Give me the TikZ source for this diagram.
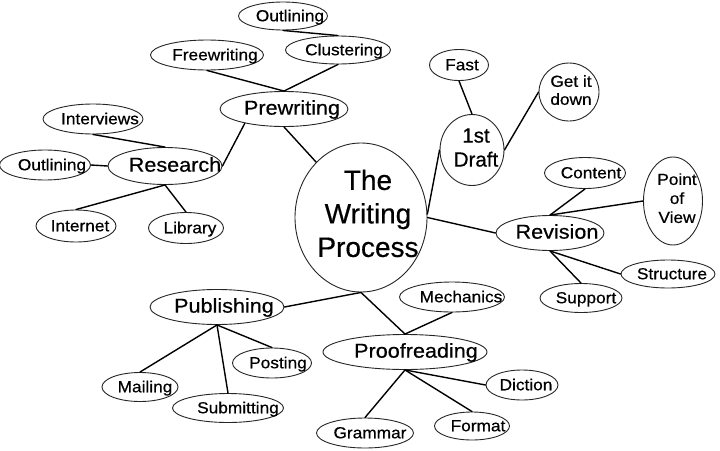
\documentclass[tikz,border=0pt]{standalone}
\usepackage{fontspec}
\setmainfont{Liberation Sans}[FakeBold=0.5]
\newfontfamily\wsans[FakeStretch=1.08,FakeBold=0.5]{Liberation Sans}
\newfontfamily\nsans[FakeBold=0.5]{Liberation Sans}
\usetikzlibrary{shapes.geometric}
\tikzset{
  bub/.style={ellipse, draw=black!85, line width=0.9pt, fill=white, inner sep=0pt},
  sm/.style={font=\wsans\fontsize{16}{18}\selectfont, inner sep=0pt, text height=11.5pt, text depth=0pt},
  md/.style={font=\wsans\fontsize{20}{24}\selectfont, inner sep=0pt, text height=14.3pt, text depth=0pt},
  link/.style={line width=1.4pt, black, line cap=round},
}
% name, x, y, w, h, dx, dy, text, style
\newcommand\mybub[9]{%
  \node[bub, minimum width=#4pt, minimum height=#5pt] (#1) at (#2,#3) {};
  \node[#9] (#1-t) at ([shift={(#6pt,#7pt)}]#1.center) {#8};}
\begin{document}
\begin{tikzpicture}[x=1pt,y=-1pt]
\useasboundingbox (0,0) rectangle (720,450);
\fill[white] (0,0) rectangle (720,450);

% centre
\node[bub, minimum width=132pt, minimum height=149pt] (cen) at (361,217.5) {};
\node[font=\nsans\fontsize{28}{33.5}\selectfont, align=center, inner sep=0pt] (cen-t) at (368,213.4) {The\\Writing\\Process};

% main branches
\mybub{pre}{284}{109}{128}{35}{8}{1.5}{Prewriting}{md}
\mybub{res}{165}{166}{114}{37}{10}{1.5}{Research}{md}
\mybub{rev}{550}{233}{108}{35}{7}{1.5}{Revision}{md}
\mybub{pub}{217}{307}{134}{35}{7}{1.5}{Publishing}{md}
\mybub{proof}{405}{352}{164}{35}{11}{1.5}{Proofreading}{md}

% leaves
\mybub{out1}{283}{16}{89}{28}{7}{0.5}{Outlining}{sm}
\mybub{clu}{338}{50}{105}{28}{6}{0.5}{Clustering}{sm}
\mybub{fre}{207}{55}{113}{30}{8}{0.5}{Freewriting}{sm}
\mybub{inv}{93}{119}{100}{30}{7}{0.5}{Interviews}{sm}
\mybub{out2}{45}{165}{91}{30}{7}{0.5}{Outlining}{sm}
\mybub{inet}{76}{226}{80}{32}{4}{0.5}{Internet}{sm}
\mybub{lib}{186}{228}{75}{31}{4}{0.5}{Library}{sm}
\mybub{fast}{459}{65}{59}{31}{3}{0.5}{Fast}{sm}
\mybub{cont}{585}{173}{81}{31}{6}{0.5}{Content}{sm}
\mybub{str}{668}{274}{94}{28}{4}{0.5}{Structure}{sm}
\mybub{sup}{581}{298}{82}{29}{5}{0.5}{Support}{sm}
\mybub{mech}{452}{297}{105}{30}{9}{0.5}{Mechanics}{sm}
\mybub{post}{272}{363}{79}{30}{6}{0.5}{Posting}{sm}
\mybub{mail}{140}{387}{76}{29}{5}{0.5}{Mailing}{sm}
\mybub{sub}{228}{408}{111}{29}{10}{0.5}{Submitting}{sm}
\mybub{dic}{522}{385}{72}{30}{4}{0.5}{Diction}{sm}
\mybub{fmt}{472}{426}{75}{28}{6}{0.5}{Format}{sm}
\mybub{gram}{365}{433}{97}{30}{5}{0.5}{Grammar}{sm}

% multi-line bubbles
\node[bub, minimum width=64pt, minimum height=71pt] (draft) at (472,150) {};
\node[font=\nsans\fontsize{20.5}{24}\selectfont, align=center, inner sep=0pt] (draft-t) at (476,147.6) {1st\\Draft};
\node[bub, minimum width=60pt, minimum height=58pt] (get) at (569,92) {};
\node[font=\wsans\fontsize{16}{18}\selectfont, align=center, inner sep=0pt] (get-t) at (571,90.1) {Get it\\down};
\node[bub, minimum width=59pt, minimum height=88pt] (pov) at (673,201) {};
\node[font=\wsans\fontsize{16}{19}\selectfont, align=center, inner sep=0pt] (pov-t) at (677,198.2) {Point\\of\\View};

% connectors
\draw[link] (cen.129) -- (pre.south);
\draw[link] (res.east) -- (pre.200);
\draw[link] (pre.north) -- (fre.south);
\draw[link] (pre.north) -- (clu.south);
\draw[link] (out1.south) -- (clu.north);
\draw[link] (res.north) -- (inv.south);
\draw[link] (res.west) -- (out2.east);
\draw[link] (res.south) -- (inet.north);
\draw[link] (res.south) -- (lib.north);
\draw[link] (cen.3) -- (draft.west);
\draw[link] (fast.south) -- (draft.north);
\draw[link] (draft.east) -- (get.west);
\draw[link] (cen.east) -- (rev.west);
\draw[link] (rev.north) -- (cont.south);
\draw[link] (rev.north) -- (pov.west);
\draw[link] (rev.south) -- (str.west);
\draw[link] (rev.south) -- (sup.north);
\draw[link] (cen.south) -- (pub.east);
\draw[link] (cen.south) -- (proof.north);
\draw[link] (proof.north) -- (mech.south);
\draw[link] (pub.south) -- (mail.north);
\draw[link] (pub.south) -- (sub.north);
\draw[link] (pub.south) -- (post.north);
\draw[link] (proof.south) -- (dic.west);
\draw[link] (proof.south) -- (fmt.north);
\draw[link] (proof.south) -- (gram.north);
\end{tikzpicture}
\end{document}
